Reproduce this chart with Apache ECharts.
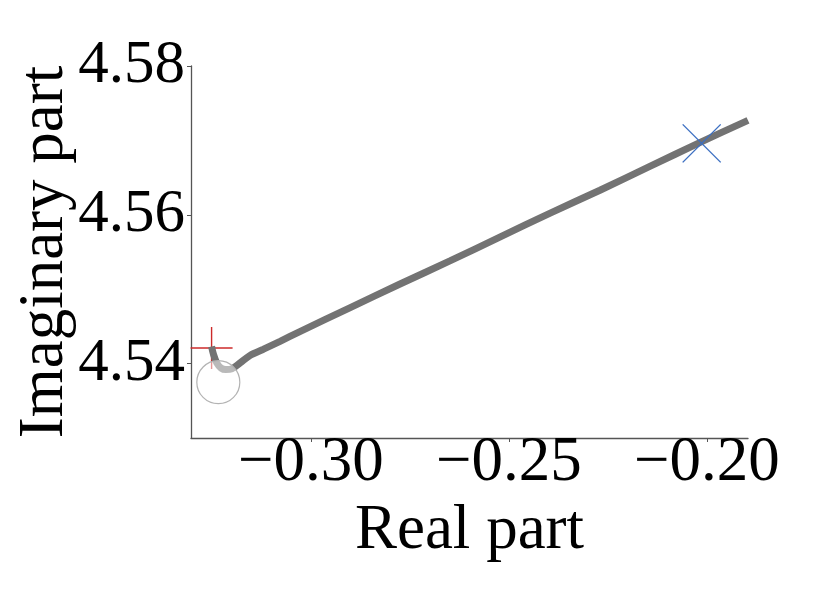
<!DOCTYPE html>
<html>
<head>
<meta charset="utf-8">
<script src="https://cdn.jsdelivr.net/npm/echarts@6/dist/echarts.min.js"></script>
<style>
html,body{margin:0;padding:0;background:#fff;}
#chart{width:830px;height:609px;}
</style>
</head>
<body>
<div id="chart"></div>
<script>
// Trajectory of the eigenvalue (real part, imaginary part)
var realPart = [-0.3251,-0.3246,-0.3238,-0.3227,-0.3215,-0.3200,-0.3179,-0.3154,-0.3121,-0.3078,-0.3028,-0.2902,-0.2775,-0.2649,-0.2523,-0.2397,-0.2270,-0.2144,-0.2018,-0.1896];
var imagPart = [4.5423,4.5412,4.5401,4.5394,4.5392,4.5393,4.5401,4.5411,4.5419,4.5430,4.5443,4.5475,4.5507,4.5538,4.5570,4.5602,4.5633,4.5665,4.5697,4.5727];
// Markers
var startPoint = [-0.3251, 4.5421];   // red plus
var endPoint = [-0.2013, 4.5696];     // blue cross
var circlePoint = [-0.3234, 4.5375];  // grey circle
// Tick labels
var xTicks = [-0.30, -0.25, -0.20];
var yTicks = [4.54, 4.56, 4.58];
var xRange = [-0.3303, -0.1896];
var yRange = [4.53, 4.58];

var FONT = 'Liberation Serif';
var FS = 63;
var lineData = realPart.map(function (x, i) { return [x, imagPart[i]]; });

function fmtX(v) {
  return (v < 0 ? '\u2212' : '') + Math.abs(v).toFixed(2);
}
function fmtY(v) { return v.toFixed(2); }

var chart = echarts.init(document.getElementById('chart'), null, {renderer: 'canvas'});
var axisColor = '#555555';
chart.setOption({
  animation: false,
  backgroundColor: '#ffffff',
  grid: {left: 191, right: 82, top: 66, bottom: 171, containLabel: false, outerBoundsMode: 'none'},
  xAxis: {
    type: 'value',
    min: xRange[0], max: xRange[1],
    name: 'Real part',
    nameLocation: 'middle',
    nameGap: 59,
    nameTextStyle: {fontFamily: FONT, fontSize: FS, color: '#000'},
    axisLine: {show: true, lineStyle: {color: axisColor, width: 1.3}},
    axisTick: {show: true, length: 4, inside: false, customValues: xTicks, lineStyle: {color: axisColor, width: 1}},
    axisLabel: {customValues: xTicks, formatter: fmtX, fontFamily: FONT, fontSize: FS, color: '#000', margin: -6},
    splitLine: {show: false}
  },
  yAxis: {
    type: 'value',
    min: yRange[0], max: yRange[1],
    name: 'Imaginary part',
    nameLocation: 'middle',
    nameRotate: 90,
    nameGap: 114,
    nameMoveOverlap: false,
    nameTextStyle: {fontFamily: FONT, fontSize: FS, color: '#000'},
    axisLine: {show: true, lineStyle: {color: axisColor, width: 1.3}},
    axisTick: {show: true, length: 4, inside: false, customValues: yTicks, lineStyle: {color: axisColor, width: 1}},
    axisLabel: {customValues: yTicks, formatter: fmtY, fontFamily: FONT, fontSize: 61, color: '#000', margin: 6},
    splitLine: {show: false}
  },
  series: [
    {
      type: 'custom',
      coordinateSystem: 'cartesian2d',
      data: [startPoint],
      z: 2,
      renderItem: function (params, api) {
        var p = api.coord([api.value(0), api.value(1)]);
        var h = 21;
        return {
          type: 'group',
          children: [
            {type: 'line', shape: {x1: p[0] - h, y1: p[1], x2: p[0] + h, y2: p[1]}, style: {stroke: '#cc2a2a', lineWidth: 1.4}},
            {type: 'line', shape: {x1: p[0], y1: p[1] - h, x2: p[0], y2: p[1] + h}, style: {stroke: '#cc2a2a', lineWidth: 1.4}}
          ]
        };
      }
    },
    {
      type: 'line',
      data: lineData,
      showSymbol: false,
      smooth: 0.3,
      z: 3,
      clip: true,
      lineStyle: {color: '#737373', width: 7, cap: 'butt'}
    },
    {
      type: 'custom',
      coordinateSystem: 'cartesian2d',
      data: [circlePoint],
      z: 4,
      renderItem: function (params, api) {
        var p = api.coord([api.value(0), api.value(1)]);
        return {
          type: 'circle',
          shape: {cx: p[0], cy: p[1], r: 21.5},
          style: {fill: 'rgba(255,255,255,0.5)', stroke: '#b3b3b3', lineWidth: 1.2}
        };
      }
    },
    {
      type: 'custom',
      coordinateSystem: 'cartesian2d',
      data: [endPoint],
      z: 5,
      renderItem: function (params, api) {
        var p = api.coord([api.value(0), api.value(1)]);
        var h = 19;
        return {
          type: 'group',
          children: [
            {type: 'line', shape: {x1: p[0] - h, y1: p[1] - h, x2: p[0] + h, y2: p[1] + h}, style: {stroke: '#3b6fc2', lineWidth: 1.4}},
            {type: 'line', shape: {x1: p[0] - h, y1: p[1] + h, x2: p[0] + h, y2: p[1] - h}, style: {stroke: '#3b6fc2', lineWidth: 1.4}}
          ]
        };
      }
    }
  ]
});
</script>
</body>
</html>
